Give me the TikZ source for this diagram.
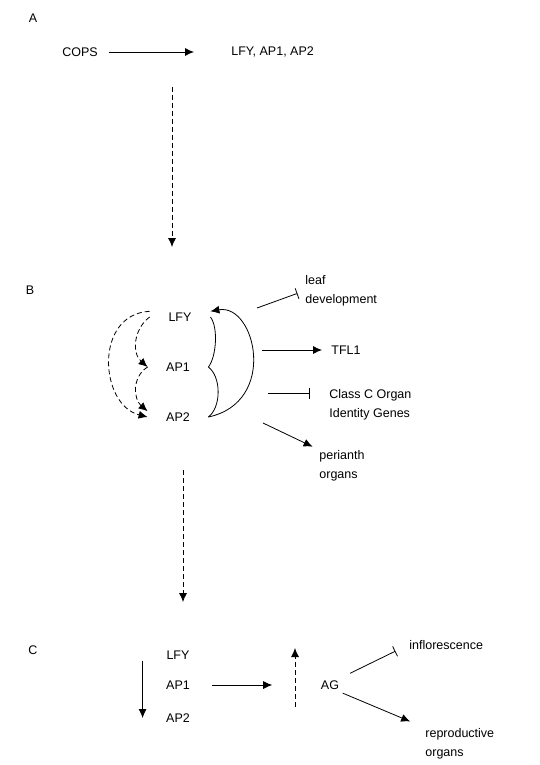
\documentclass[tikz,border=0pt]{standalone}
\usepackage{fontspec}
\setmainfont{Liberation Sans}
\usetikzlibrary{arrows.meta}
\tikzset{gene/.style={minimum width=60pt,inner sep=1pt},
 act/.style={-{Latex[length=9pt,width=8pt]}},
 inhib/.style={-{Bar[width=11pt]}},
 lbl/.style={align=left,anchor=west,inner sep=1pt},
 dsh/.style={dash pattern=on 5pt off 3pt},
 }

\begin{document}
\begin{tikzpicture}[x=1pt,y=-1pt,font=\fontsize{12.5}{19}\selectfont,thick]
        \useasboundingbox (0,0) rectangle (540,765);
        \node (labA) at (33,18) {A};
        \node (cops) at (80,52) {COPS};
        \node[lbl] (genesA) at (230,52) {LFY, AP1, AP2};
        \draw[act,shorten <=8pt,shorten >=36pt] (cops.east) -- (genesA.west);
        \coordinate (dA1) at (172,87);
        \coordinate (dA2) at (172,247);
        \draw[dsh,act] (dA1) -- (dA2);

        \node (labB) at (30,290) {B};
        \node[gene] (lfyB) at (180,317) {LFY};
        \node[gene] (ap1B) at (178,367) {AP1};
        \node[gene] (ap2B) at (178,417) {AP2};
        \draw[dsh,act] (lfyB.north west) .. controls +(-56,3) and +(-48,-12) .. (ap2B.west);
        \draw[dsh,act] (lfyB.west) .. controls +(-16,12) and +(-16,-14) .. (ap1B.west);
        \draw[dsh,act] (ap1B.west) .. controls +(-16,10) and +(-14,-12) .. (ap2B.north west);
        \draw (lfyB.east) .. controls +(8,10) and +(8,-10) .. (ap1B.east);
        \draw (ap1B.east) .. controls +(13,10) and +(13,-10) .. (ap2B.east);
        \draw[act] (ap2B.east) .. controls +(70,-15) and +(45,-8) .. (lfyB.north east);
        \node[lbl] (leaf) at (304,291) {leaf\\development};
        \node[lbl] (tfl) at (330,350) {TFL1};
        \node[lbl] (classC) at (328,405) {Class C Organ\\Identity Genes};
        \node[lbl] (perianth) at (318,466) {perianth\\organs};
        \coordinate (oL) at (257,308);
        \coordinate (oT) at (262,350);
        \coordinate (oC) at (268,393);
        \coordinate (oP) at (263,423);
        \draw[inhib,shorten >=7pt] (oL) -- (leaf.west);
        \draw[act,shorten >=8pt] (oT) -- (tfl.west);
        \draw[inhib,shorten >=18pt] (oC) -- (oC -| classC.west);
        \draw[act,shorten >=6pt] (oP) -- (perianth.north west);
        \coordinate (dB1) at (183,470);
        \coordinate (dB2) at (183,602);
        \draw[dsh,act] (dB1) -- (dB2);

        \node (labC) at (33,650) {C};
        \node[gene] (lfyC) at (178,655) {LFY};
        \node[gene] (ap1C) at (178,685) {AP1};
        \node[gene] (ap2C) at (178,718) {AP2};
        \draw[act] ([xshift=-5pt]lfyC.south west) -- ([xshift=-5pt]ap2C.west);
        \node (ag) at (330,685) {AG};
        \draw[act,shorten <=4pt,shorten >=45pt] (ap1C.east) -- (ag.west);
        \coordinate (agLo) at (295,707);
        \coordinate (agHi) at (295,648);
        \draw[dsh,act] (agLo) -- (agHi);
        \node[lbl] (infl) at (408,645) {inflorescence};
        \node[lbl] (repro) at (424,744) {reproductive\\organs};
        \draw[inhib,shorten <=8pt,shorten >=14pt] (ag.north east) -- (infl.west);
        \draw[act,shorten >=15pt] (ag.south east) -- (repro.north west);
    \end{tikzpicture}
\end{document}
